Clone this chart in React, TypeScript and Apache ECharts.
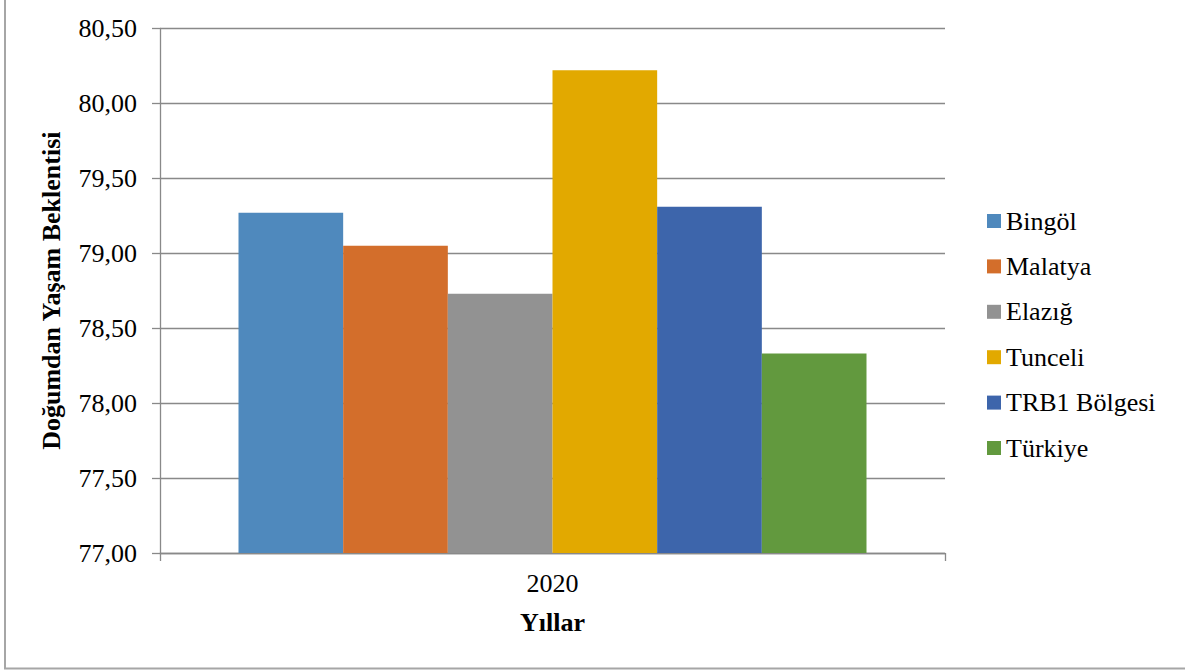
import React, { useEffect, useRef } from "react";
import * as echarts from "echarts";

const categories = ["2020"];
const seriesNames = ["Bingöl", "Malatya", "Elazığ", "Tunceli", "TRB1 Bölgesi", "Türkiye"];
const seriesValues = [79.27, 79.05, 78.73, 80.22, 79.31, 78.33];
const seriesColors = ["#4f89bd", "#d36e2b", "#929292", "#e2a900", "#3d65ab", "#62993e"];
const yTicks = { min: 77, max: 80.5, interval: 0.5 };

const FONT = "Liberation Serif";

export default function App() {
  const ref = useRef<HTMLDivElement>(null);
  useEffect(() => {
    if (!ref.current) return;
    document.body.style.margin = "0";
    const chart = echarts.init(ref.current, undefined, { renderer: "svg" });
    chart.setOption({
      animation: false,
      backgroundColor: "#ffffff",
      textStyle: { fontFamily: FONT },
      grid: { left: 160, right: 240, top: 28.3, bottom: 119, containLabel: false },
      legend: {
        orient: "vertical",
        left: 987,
        top: 208,
        padding: 0,
        itemWidth: 14,
        itemHeight: 14,
        itemGap: 19.4,
        itemTextGap: 5,
        icon: "rect",
        textStyle: { fontFamily: FONT, fontSize: 26, color: "#000", lineHeight: 26 },
        data: seriesNames,
      },
      xAxis: {
        type: "category",
        data: categories,
        name: "Yıllar",
        nameLocation: "middle",
        nameGap: 56,
        nameTextStyle: { fontFamily: FONT, fontSize: 26, fontWeight: "bold", color: "#000" },
        axisLine: { lineStyle: { color: "#898989", width: 1.3 } },
        axisTick: { show: true, length: 8, lineStyle: { color: "#898989", width: 1.3 } },
        axisLabel: { fontFamily: FONT, fontSize: 26, color: "#000", margin: 17 },
      },
      yAxis: {
        type: "value",
        min: yTicks.min,
        max: yTicks.max,
        interval: yTicks.interval,
        name: "Doğumdan Yaşam Beklentisi",
        nameLocation: "middle",
        nameGap: 96,
        nameRotate: 90,
        nameTextStyle: { fontFamily: FONT, fontSize: 26, fontWeight: "bold", color: "#000" },
        axisLine: { show: true, lineStyle: { color: "#898989", width: 1.3 } },
        axisTick: { show: true, length: 8, lineStyle: { color: "#898989", width: 1.3 } },
        axisLabel: {
          fontFamily: FONT,
          fontSize: 26,
          color: "#000",
          margin: 23,
          formatter: (v: number) => v.toFixed(2).replace(".", ","),
        },
        splitLine: { show: true, lineStyle: { color: "#898989", width: 1.3 } },
      },
      graphic: [
        {
          type: "rect",
          shape: { x: 5, y: -10, width: 1200, height: 678.5 },
          style: { fill: "none", stroke: "#a6a6a6", lineWidth: 2 },
          silent: true,
          z: 100,
        },
      ],
      series: seriesNames.map((name, i) => ({
        name,
        type: "bar",
        data: [seriesValues[i]],
        itemStyle: { color: seriesColors[i] },
        barGap: "0%",
        barCategoryGap: "20%",
      })),
    });
    return () => chart.dispose();
  }, []);
  return (
    <div
      ref={ref}
      style={{ position: "absolute", left: 0, top: 0, width: 1185, height: 672 }}
    />
  );
}
